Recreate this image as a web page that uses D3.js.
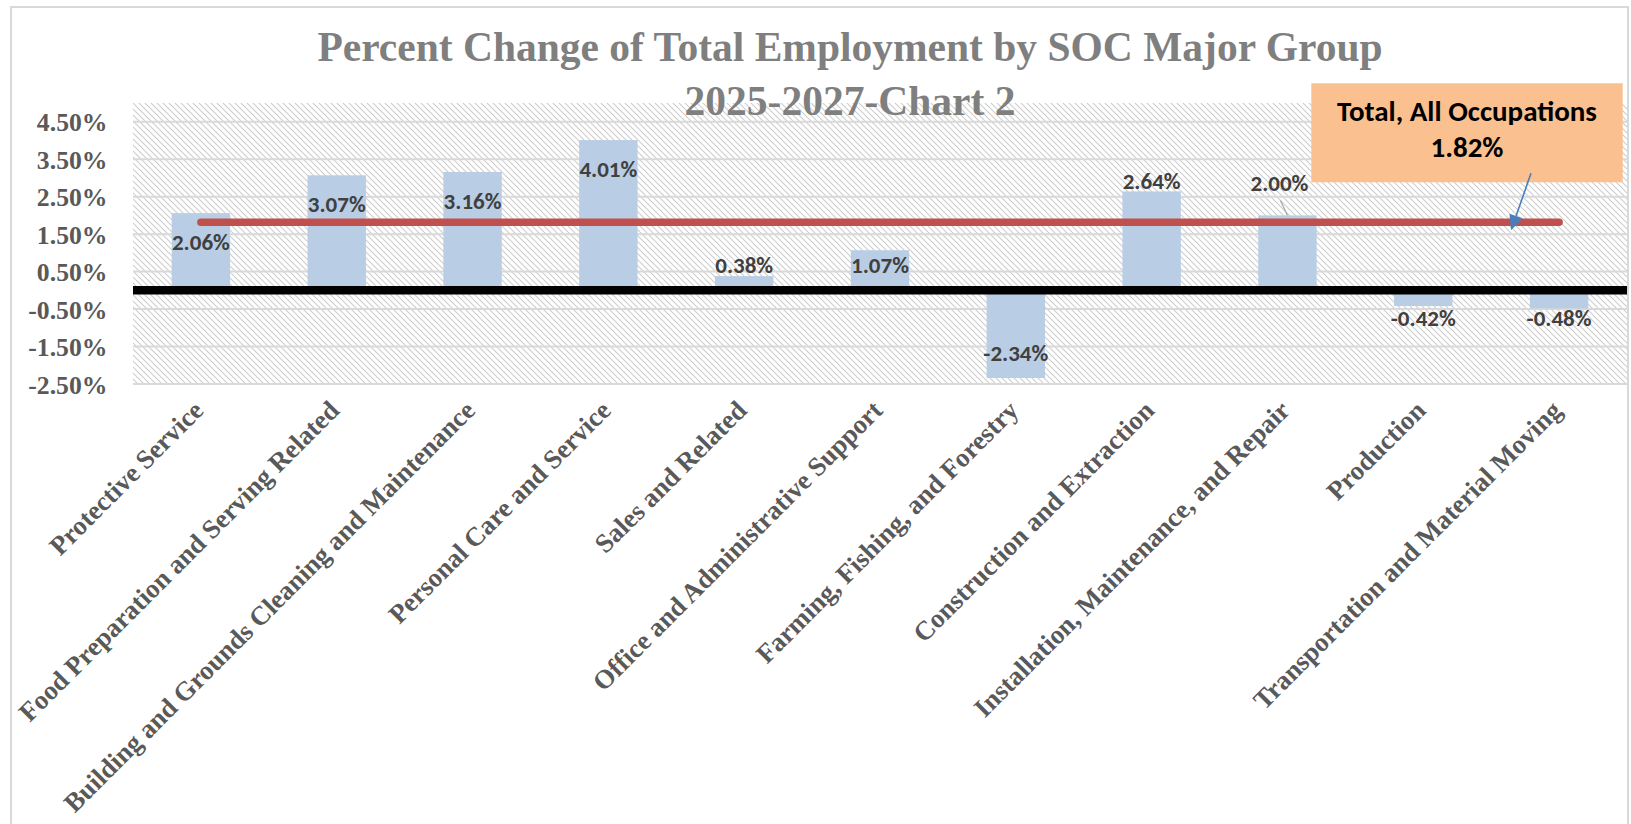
<!DOCTYPE html>
<html>
<head>
<meta charset="utf-8">
<script src="https://cdn.jsdelivr.net/npm/d3@7/dist/d3.min.js"></script>
<style>
  html, body { margin: 0; padding: 0; background: #ffffff; }
  svg { display: block; }
</style>
</head>
<body>
<svg id="chart" width="1631" height="824"></svg>
<script>
// ---------------- data ----------------
const categories = [
  "Protective Service",
  "Food Preparation and Serving Related",
  "Building and Grounds Cleaning and Maintenance",
  "Personal Care and Service",
  "Sales and Related",
  "Office and Administrative Support",
  "Farming, Fishing, and Forestry",
  "Construction and Extraction",
  "Installation, Maintenance, and Repair",
  "Production",
  "Transportation and Material Moving"
];
const values = [2.06, 3.07, 3.16, 4.01, 0.38, 1.07, -2.34, 2.64, 2.00, -0.42, -0.48];
const totalLabel = "Total, All Occupations";
const totalValue = 1.82;
const yTicks = [-2.5, -1.5, -0.5, 0.5, 1.5, 2.5, 3.5, 4.5];
const yDomain = [-2.5, 5.0];
const titleLines = ["Percent Change of Total Employment by SOC Major Group", "2025-2027-Chart 2"];

// ---------------- layout (label placement relative to bar end, px) ----------------
const labelDy = [28.6, 28, 29, 29, -11.5, 14.5, -25, -10.7, -33, 11.5, 9];
const labelDx = [0, 0, 0, 0, 0, 0, 0, 0, -8, 0, 0];

const plot = { left: 133, right: 1627, top: 103, bottom: 384 };
const locale = d3.formatLocale({ decimal: ".", thousands: ",", grouping: [3], currency: ["", ""], minus: "-" });
const pct = d => locale.format(".2f")(d) + "%";

const svg = d3.select("#chart");

// hatch pattern
const defs = svg.append("defs");
const pat = defs.append("pattern")
  .attr("id", "hatch").attr("patternUnits", "userSpaceOnUse")
  .attr("width", 6).attr("height", 6);
pat.append("rect").attr("width", 6).attr("height", 6).attr("fill", "#ffffff");
pat.append("path").attr("d", "M-1,-1 L7,7 M-1,5 L1,7 M5,-1 L7,1")
  .attr("stroke", "#cdcdcd").attr("stroke-width", 1.05);

// chart border
svg.append("rect").attr("x", 11).attr("y", 7).attr("width", 1617).attr("height", 840)
  .attr("fill", "#ffffff").attr("stroke", "#d9d9d9").attr("stroke-width", 2);

const x = d3.scaleBand().domain(categories).range([plot.left, plot.right])
  .paddingInner(0.57).paddingOuter(0.285);
const y = d3.scaleLinear().domain(yDomain).range([plot.bottom, plot.top]);
const cx = c => x(c) + x.bandwidth() / 2;

// plot background
svg.append("rect").attr("x", plot.left).attr("y", plot.top)
  .attr("width", plot.right - plot.left).attr("height", plot.bottom - plot.top)
  .attr("fill", "url(#hatch)");

// gridlines
svg.append("g").selectAll("line").data(yTicks).join("line")
  .attr("x1", plot.left).attr("x2", plot.right)
  .attr("y1", d => y(d)).attr("y2", d => y(d))
  .attr("stroke", "#d9d9d9").attr("stroke-width", 2);

// y axis labels
const yAxis = d3.axisLeft(y).tickValues(yTicks).tickSize(0).tickPadding(0).tickFormat(pct);
const gy = svg.append("g").attr("transform", `translate(${plot.left - 25.5},0)`).call(yAxis);
gy.select(".domain").remove();
gy.selectAll("text")
  .attr("font-family", "'Liberation Serif', 'Times New Roman', serif")
  .attr("font-weight", "bold").attr("font-size", "25.7px")
  .attr("fill", "#595959").attr("dy", "0.36em");

// bars
svg.append("g").selectAll("rect").data(values).join("rect")
  .attr("x", (d, i) => x(categories[i]))
  .attr("width", x.bandwidth())
  .attr("y", d => y(Math.max(0, d)))
  .attr("height", d => Math.abs(y(d) - y(0)))
  .attr("fill", "#b9cde5");

// zero axis line
svg.append("line").attr("x1", plot.left).attr("x2", plot.right)
  .attr("y1", y(0)).attr("y2", y(0))
  .attr("stroke", "#000000").attr("stroke-width", 8.5);

// total line
const line = d3.line().x(d => cx(d)).y(() => y(totalValue));
svg.append("path").datum(categories).attr("d", line)
  .attr("fill", "none").attr("stroke", "#c0504d").attr("stroke-width", 7.5)
  .attr("stroke-linecap", "round");

// leader line for moved label (index 8)
{
  const i = 8;
  const lx = cx(categories[i]) + labelDx[i];
  const ly = y(values[i]) + labelDy[i];
  svg.append("line")
    .attr("x1", lx + 1).attr("y1", ly + 18)
    .attr("x2", cx(categories[i])).attr("y2", y(values[i]))
    .attr("stroke", "#a6a6a6").attr("stroke-width", 1.2);
}

// data labels
svg.append("g").selectAll("text").data(values).join("text")
  .attr("x", (d, i) => cx(categories[i]) + labelDx[i])
  .attr("y", (d, i) => y(d) + labelDy[i])
  .attr("dy", "0.36em")
  .attr("text-anchor", "middle")
  .attr("font-family", "Carlito, Calibri, Lato, sans-serif")
  .attr("font-weight", "bold").attr("font-size", "23px")
  .attr("fill", "#404040")
  .text(pct);

// x-axis category labels
svg.append("g").selectAll("text").data(categories).join("text")
  .attr("transform", c => `translate(${cx(c) + 4},${plot.bottom + 28}) rotate(-45)`)
  .attr("text-anchor", "end")
  .attr("font-family", "'Liberation Serif', 'Times New Roman', serif")
  .attr("font-weight", "bold").attr("font-size", "26.7px")
  .attr("fill", "#595959")
  .text(c => c);

// title
svg.append("g").selectAll("text").data(titleLines).join("text")
  .attr("x", 850).attr("y", (d, i) => 60.7 + i * 54.3)
  .attr("text-anchor", "middle")
  .attr("font-family", "'Liberation Serif', 'Times New Roman', serif")
  .attr("font-weight", "bold").attr("font-size", "41.5px")
  .attr("fill", "#7f7f7f")
  .text(d => d);

// callout box
const box = { x: 1311.3, y: 83.3, w: 311.4, h: 99 };
svg.append("rect").attr("x", box.x).attr("y", box.y).attr("width", box.w).attr("height", box.h)
  .attr("fill", "#fac090");
svg.append("g").selectAll("text")
  .data([totalLabel, pct(totalValue)]).join("text")
  .attr("x", box.x + box.w / 2).attr("y", (d, i) => 120.5 + i * 36)
  .attr("text-anchor", "middle")
  .attr("font-family", "Carlito, Calibri, Lato, sans-serif")
  .attr("font-weight", "bold").attr("font-size", "29px")
  .attr("fill", "#000000")
  .text(d => d);

// arrow from callout to total line
{
  const tipX = cx(categories[categories.length - 1]) - 48;
  const tipY = y(totalValue) + 8;
  const sx = 1531, sy = box.y + box.h - 9;
  const ang = Math.atan2(tipY - sy, tipX - sx);
  const len = 15, half = 7;
  const bx = tipX - len * Math.cos(ang), by = tipY - len * Math.sin(ang);
  svg.append("line").attr("x1", sx).attr("y1", sy).attr("x2", bx).attr("y2", by)
    .attr("stroke", "#4a7ebb").attr("stroke-width", 1.6);
  const p1 = [bx + half * Math.sin(ang), by - half * Math.cos(ang)];
  const p2 = [bx - half * Math.sin(ang), by + half * Math.cos(ang)];
  svg.append("path").attr("d", `M${tipX},${tipY} L${p1[0]},${p1[1]} L${p2[0]},${p2[1]} Z`)
    .attr("fill", "#4a7ebb");
}
</script>
</body>
</html>
